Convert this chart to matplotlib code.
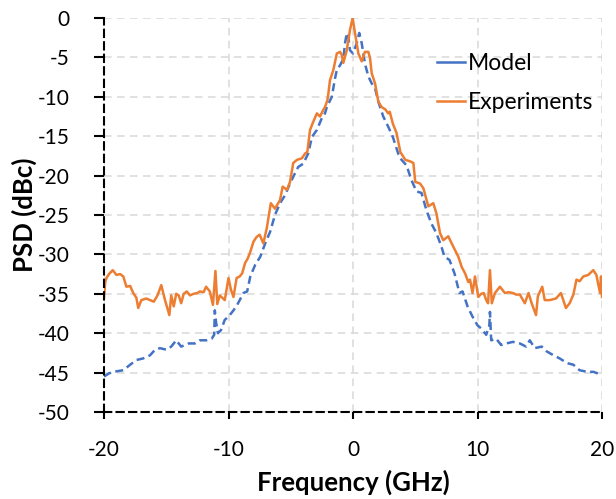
import matplotlib
matplotlib.use("Agg")
import matplotlib.pyplot as plt
from matplotlib.lines import Line2D

# ---------------- data ----------------
exp_freq = [-20.0, -19.9, -19.8, -19.6, -19.3, -19.0, -18.7, -18.45, -18.2, -17.9, -17.65, -17.4,
            -17.25, -17.0, -16.6, -16.3, -16.0, -15.7, -15.4, -15.1, -14.75, -14.6, -14.4, -14.2,
            -14.0, -13.8, -13.6, -13.35, -13.1, -12.8, -12.5, -12.3, -12.0, -11.8, -11.5, -11.25,
            -11.05, -10.9, -10.7, -10.5, -10.3, -10.0, -9.8, -9.6, -9.35, -9.1, -8.9, -8.67,
            -8.45, -8.25, -8.0, -7.75, -7.5, -7.2, -6.93, -6.75, -6.6, -6.27, -5.86, -5.65,
            -5.3, -5.06, -4.8, -4.5, -4.1, -3.85, -3.67, -3.45, -3.2, -2.9, -2.65, -2.4,
            -2.25, -2.05, -1.98, -1.85, -1.58, -1.3, -1.04, -0.9, -0.78, -0.5, -0.24, -0.03,
            0.16, 0.43, 0.7, 0.96, 1.23, 1.37, 1.5, 1.77, 2.03, 2.3, 2.6, 2.83,
            2.95, 3.2, 3.5, 3.8, 4.2, 4.6, 4.85, 5.0, 5.38, 5.65, 6.05, 6.45,
            6.7, 6.99, 7.25, 7.65, 8.05, 8.46, 8.73, 9.0, 9.26, 9.4, 9.6, 9.8,
            10.06, 10.3, 10.5, 10.7, 10.85, 11.0, 11.15, 11.4, 11.8, 12.2, 12.5, 12.85,
            13.1, 13.4, 13.8, 14.1, 14.35, 14.7, 14.85, 15.2, 15.4, 15.8, 16.3, 16.7,
            17.1, 17.4, 17.7, 17.95, 18.2, 18.5, 18.9, 19.3, 19.55, 19.7, 19.85, 19.92, 20.0]
exp_psd = [-35.5, -33.5, -33.0, -32.5, -32.0, -32.6, -32.5, -32.8, -34.1, -34.0, -34.9, -35.5,
           -36.8, -35.8, -35.6, -35.8, -36.0, -35.2, -33.9, -35.8, -37.7, -35.2, -36.6, -35.0,
           -35.2, -36.2, -35.0, -34.7, -35.2, -35.0, -34.9, -34.7, -34.8, -34.1, -34.7, -36.4,
           -32.1, -36.3, -35.2, -35.5, -35.8, -33.0, -34.5, -35.4, -33.0, -32.8, -32.4, -31.1,
           -30.5, -29.7, -28.4, -27.8, -27.5, -28.6, -26.7, -25.0, -23.5, -24.2, -23.1, -21.4,
           -21.8, -20.8, -18.4, -18.0, -17.8, -17.2, -17.0, -14.2, -13.2, -12.1, -12.5, -11.7,
           -11.3, -10.4, -9.6, -7.9, -6.6, -4.5, -4.3, -4.7, -5.7, -4.1, -1.5, 0.0,
           -1.9, -4.5, -5.5, -4.3, -4.3, -5.1, -7.0, -8.3, -10.6, -11.3, -11.6, -12.1,
           -11.9, -13.4, -14.6, -17.0, -18.0, -18.2, -18.4, -20.8, -21.0, -21.6, -23.9, -23.5,
           -24.8, -27.3, -28.2, -27.7, -29.0, -30.3, -31.6, -32.4, -33.5, -33.2, -34.9, -32.8,
           -35.4, -35.0, -34.9, -35.8, -36.2, -32.0, -36.2, -34.9, -34.1, -34.9, -34.8, -34.9,
           -35.1, -35.1, -36.2, -34.9, -36.2, -37.7, -35.3, -34.1, -35.8, -35.8, -35.6, -34.9,
           -36.8, -36.2, -35.1, -33.2, -33.4, -32.8, -32.6, -32.0, -32.6, -33.8, -34.9, -32.8, -35.4]

model_freq = [-20.0, -19.6, -19.25, -18.85, -18.45, -17.9, -17.4, -16.85, -16.3, -15.9, -15.5, -14.97,
              -14.6, -14.2, -13.8, -13.2, -12.7, -12.3, -11.75, -11.35, -11.15, -11.1, -11.0, -10.85,
              -10.6, -10.3, -10.0, -9.6, -9.3, -8.8, -8.5, -8.25, -7.85, -7.45, -7.05, -6.65,
              -6.27, -5.86, -5.46, -5.06, -4.66, -4.4, -4.0, -3.6, -3.3, -2.9, -2.5, -2.25,
              -2.1, -1.7, -1.45, -1.3, -1.04, -0.78, -0.64, -0.5, -0.38, -0.24, 0.0, 0.3,
              0.5, 0.7, 0.96, 1.23, 1.5, 1.77, 2.03, 2.43, 2.83, 3.2, 3.63, 3.9,
              4.3, 4.7, 5.1, 5.5, 5.9, 6.3, 6.7, 7.1, 7.35, 7.75, 8.15, 8.55,
              8.8, 9.2, 9.6, 10.0, 10.3, 10.7, 10.95, 11.0, 11.1, 11.5, 11.9, 12.3,
              12.85, 13.4, 13.9, 14.2, 14.6, 15.15, 15.55, 16.1, 16.6, 17.2, 17.7, 18.2,
              18.8, 19.3, 20.0]
model_psd = [-45.5, -45.1, -44.9, -44.8, -44.7, -44.0, -43.4, -43.2, -42.8, -42.1, -41.9, -42.1,
             -41.7, -40.9, -41.7, -41.3, -41.3, -40.9, -40.9, -40.7, -40.2, -37.1, -38.6, -40.0,
             -39.6, -38.3, -37.9, -37.1, -36.4, -34.9, -34.7, -32.8, -31.3, -30.3, -28.6, -27.1,
             -25.0, -23.5, -22.5, -21.0, -19.7, -18.9, -18.5, -17.2, -15.1, -14.2, -12.7, -12.1,
             -11.3, -10.0, -7.7, -6.6, -6.0, -5.2, -3.2, -1.9, -2.3, -4.1, -4.5, -3.2,
             -1.9, -3.2, -5.8, -7.4, -8.3, -8.9, -10.6, -12.5, -13.8, -15.1, -17.2, -18.0,
             -18.7, -20.6, -22.0, -22.2, -24.4, -26.1, -27.3, -29.0, -30.3, -30.7, -32.4, -34.9,
             -34.7, -36.6, -37.9, -39.0, -39.4, -40.2, -39.0, -37.3, -40.9, -40.7, -41.5, -41.3,
             -41.1, -41.3, -41.7, -40.9, -41.9, -41.7, -42.3, -42.8, -43.2, -43.8, -44.0, -44.7,
             -44.9, -44.9, -45.3]

x_ticks = [-20, -10, 0, 10, 20]
y_ticks = [-50, -45, -40, -35, -30, -25, -20, -15, -10, -5, 0]
series_names = ["Model", "Experiments"]
colors = ["#4472C4", "#ED7D31"]

# ---------------- plot ----------------
plt.rcParams['font.family'] = ['Lato', 'DejaVu Sans']

fig = plt.figure(figsize=(6.16, 4.99), dpi=100)
ax = fig.add_axes([104/616, 1-412/499, (602-104)/616, (412-18)/499])

ax.plot(model_freq, model_psd, color=colors[0], lw=1.8, linestyle=(0, (3.2, 1.8)), zorder=3)
ax.plot(exp_freq, exp_psd, color=colors[1], lw=1.8, zorder=4)

ax.set_xlim(-20, 20)
ax.set_ylim(-50, 0)
ax.set_xticks(x_ticks)
ax.set_yticks(y_ticks)
ax.set_xticklabels([str(v) for v in x_ticks])
ax.set_yticklabels([str(v) for v in y_ticks])

ax.grid(True, color="#D9D9D9", lw=1.1, linestyle=(0, (5, 3.5)), zorder=0)
ax.set_axisbelow(True)

for s in ["top", "right"]:
    ax.spines[s].set_visible(False)
for s in ["left", "bottom"]:
    ax.spines[s].set_color("black")
    ax.spines[s].set_linewidth(1.5)
    ax.spines[s].set_linestyle((0, (3.5, 2.5)))
    ax.spines[s].set_zorder(5)

ax.tick_params(axis="y", direction="out", length=7, width=1.5, labelsize=15, pad=18)
ax.tick_params(axis="x", direction="out", length=5, width=1.5, labelsize=15, pad=15)

ax.set_xlabel("Frequency (GHz)", fontsize=18.5, fontweight="bold", labelpad=7)
ax.set_ylabel("PSD (dBc)", fontsize=18.5, fontweight="bold", labelpad=0)

handles = [Line2D([0], [0], color=colors[0], lw=1.8),
           Line2D([0], [0], color=colors[1], lw=1.8)]
ax.legend(handles, series_names, loc="upper left", bbox_to_anchor=(0.668, 0.912),
          frameon=False, fontsize=16.5, handlelength=1.25, handletextpad=0.12,
          labelspacing=0.82, borderaxespad=0, borderpad=0)

fig.savefig("out.png", dpi=100)
